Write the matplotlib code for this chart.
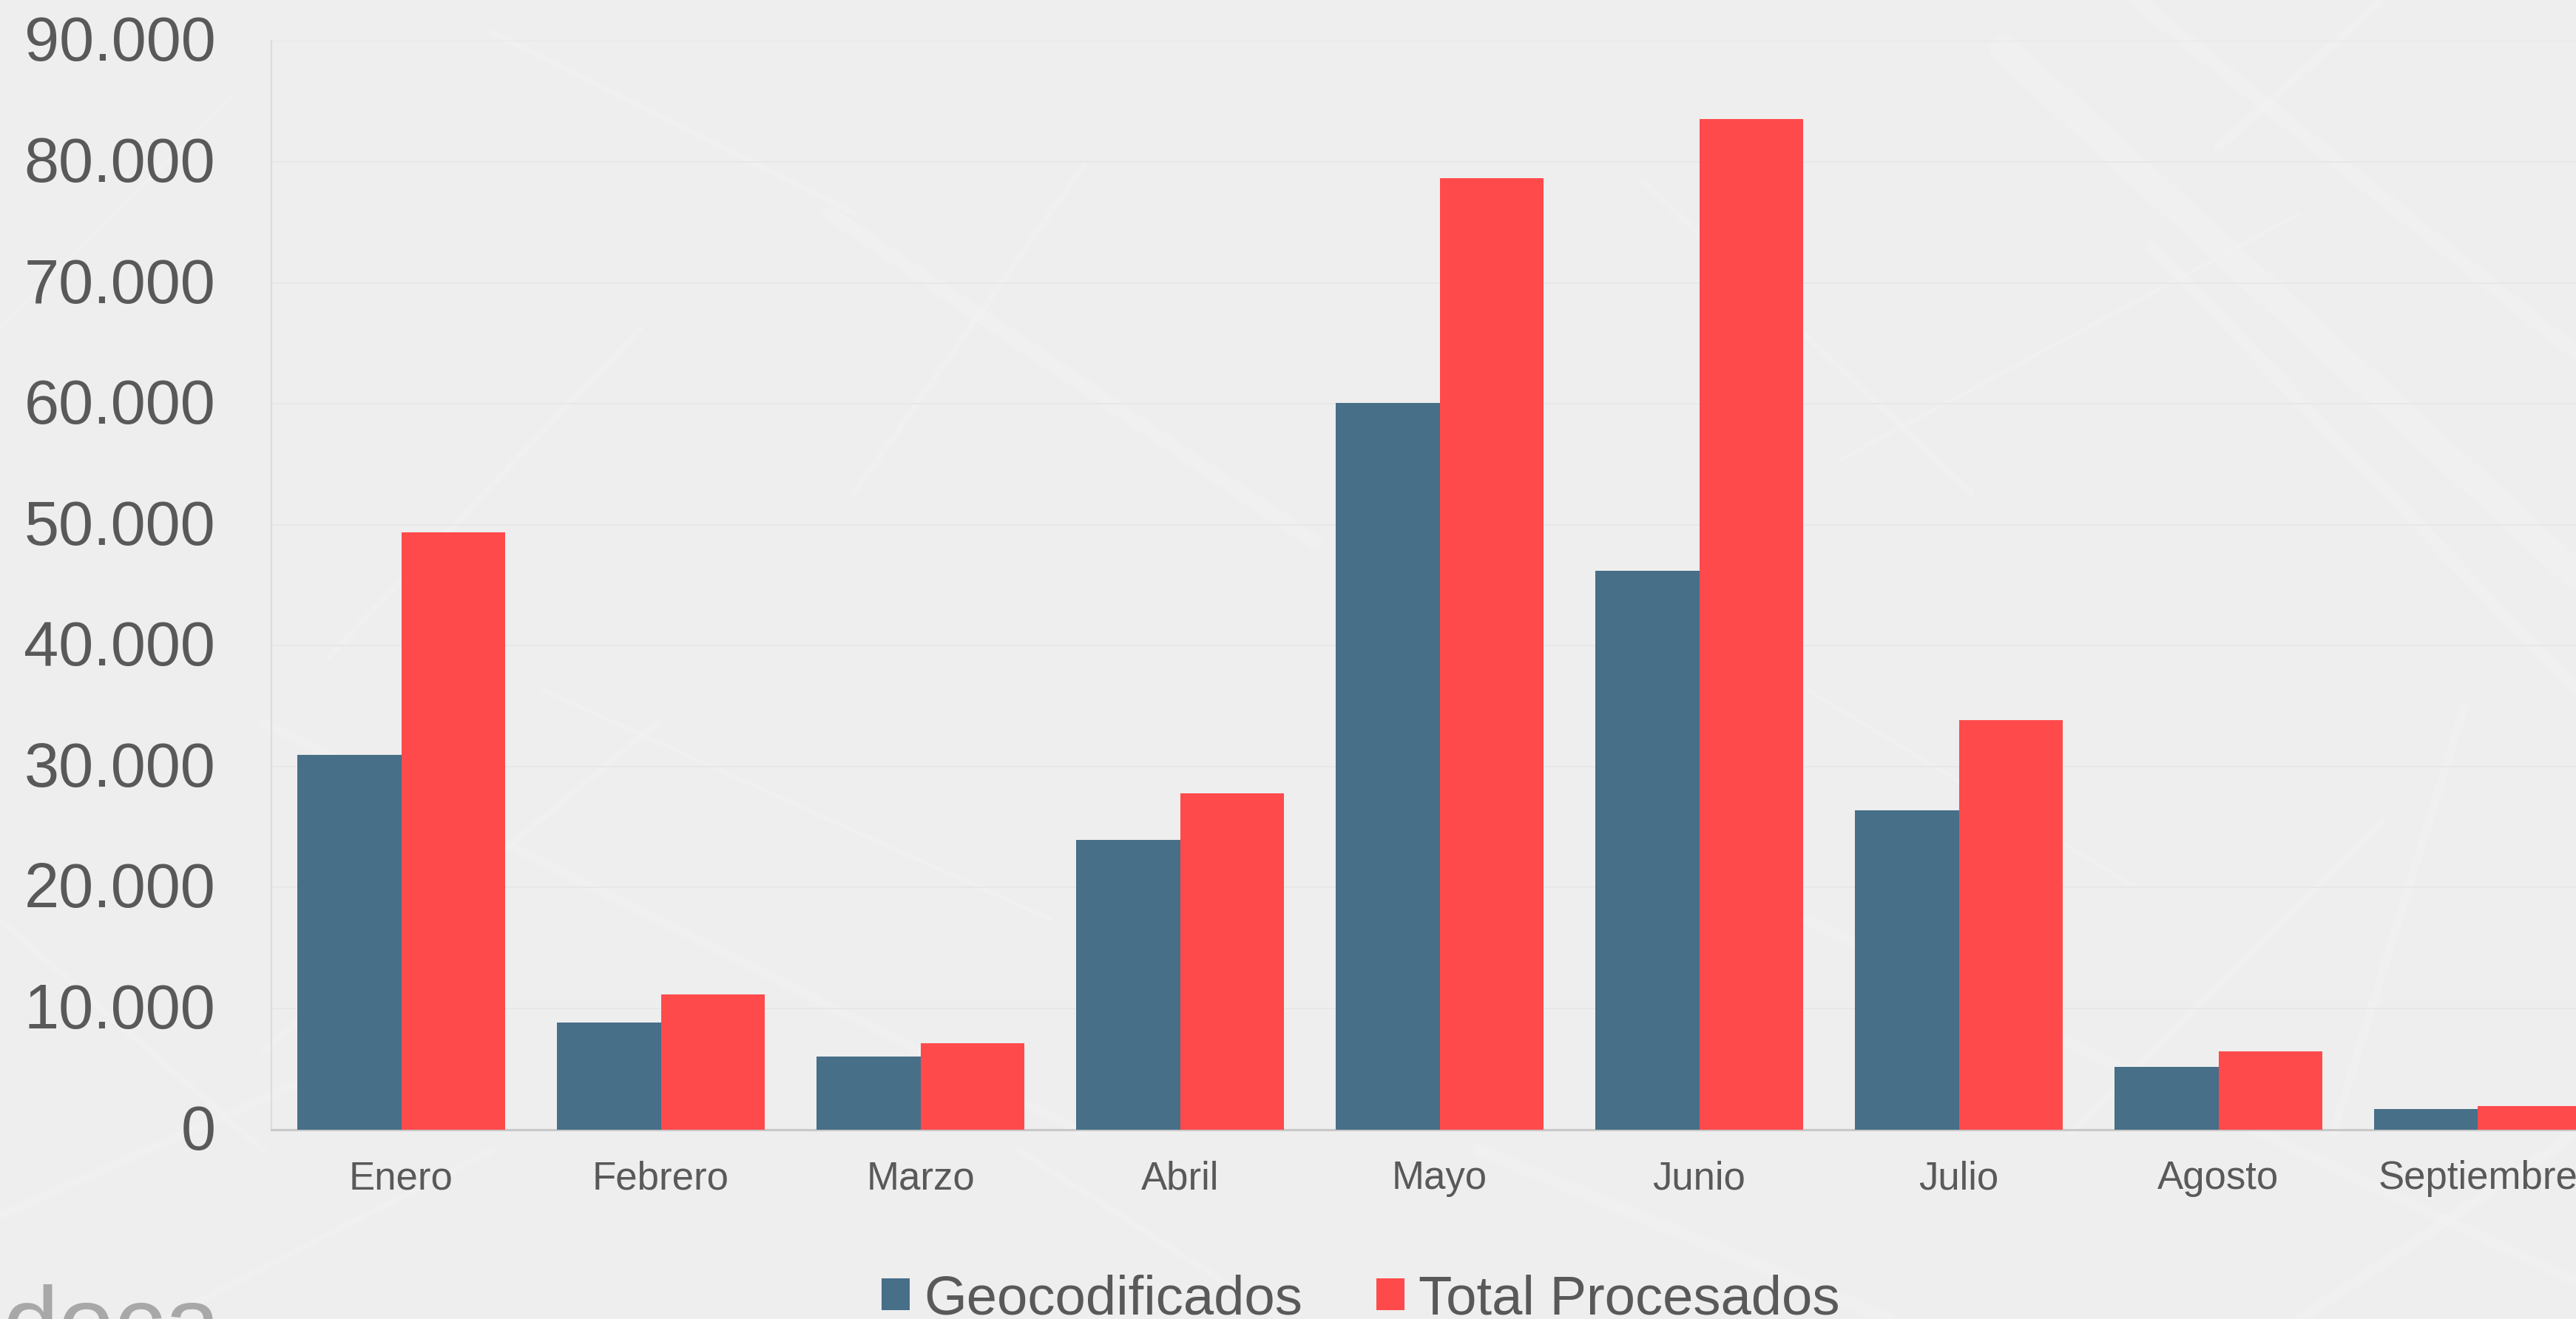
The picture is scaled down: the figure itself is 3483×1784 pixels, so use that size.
import numpy as np
import matplotlib
matplotlib.use('Agg')
import matplotlib.pyplot as plt
from matplotlib.transforms import ScaledTranslation

plt.rcParams['font.family'] = ['Liberation Sans', 'DejaVu Sans']

meses = ['Enero', 'Febrero', 'Marzo', 'Abril', 'Mayo', 'Junio', 'Julio', 'Agosto', 'Septiembre']
geocodificados = [30950, 8820, 6040, 23960, 60070, 46220, 26400, 5160, 1700]
total_procesados = [49400, 11130, 7130, 27760, 78660, 83560, 33870, 6450, 1900]
y_ticks = [0, 10000, 20000, 30000, 40000, 50000, 60000, 70000, 80000, 90000]
y_labels = ['0', '10.000', '20.000', '30.000', '40.000', '50.000', '60.000', '70.000', '80.000', '90.000']

W, H = 3483, 1784
GRIS = '#595959'

# faint street-map texture behind the chart, in preview pixels (x0, y0, x1, y1, width)
calles = [
    (505, 130, 800, 330, 7), (300, 20, 520, 130, 3), (1220, 30, 1568, 350, 14),
    (1300, 0, 1568, 215, 7), (1310, 150, 1568, 420, 6), (1350, 90, 1450, 0, 4),
    (160, 640, 400, 440, 3), (160, 440, 660, 690, 4), (390, 200, 200, 400, 3),
    (660, 100, 520, 300, 3), (1100, 560, 1568, 780, 5), (1450, 500, 1260, 690, 3),
    (0, 740, 180, 660, 4), (0, 560, 160, 700, 3), (900, 700, 1150, 803, 6),
    (1500, 430, 1420, 690, 4), (100, 803, 300, 700, 3), (1000, 110, 1200, 300, 3),
    (1120, 280, 1400, 130, 2), (330, 420, 640, 560, 2), (620, 700, 780, 803, 3),
    (1400, 803, 1568, 690, 5), (0, 200, 140, 60, 2), (1100, 420, 1300, 540, 2),
]

fig = plt.figure(figsize=(W / 100, H / 100), dpi=100, facecolor='#eeeeee')

bg = fig.add_axes([0, 0, 1, 1], zorder=0)
bg.set_xlim(0, 1568)
bg.set_ylim(803, 0)
bg.axis('off')
for x0, y0, x1, y1, lw in calles:
    bg.plot([x0, x1], [y0, y1], color='#f3f3f3', lw=lw * 2, alpha=0.55, solid_capstyle='round')

ax = fig.add_axes([367 / W, (H - 1527.5) / H, (W - 367) / W, (1527.5 - 55.5) / H], zorder=1)
ax.patch.set_alpha(0)

x = np.arange(len(meses))
ancho = 0.4
b1 = ax.bar(x - ancho / 2, geocodificados, ancho, color='#476F88', zorder=3, label='Geocodificados')
b2 = ax.bar(x + ancho / 2, total_procesados, ancho, color='#FF4A4C', zorder=3, label='Total Procesados')

ax.set_xlim(-0.5, (W - 367) / 351 - 0.5)
ax.set_ylim(0, 90000)
ax.set_xticks(x)
ax.set_xticklabels(meses, fontsize=38, color=GRIS)
ax.set_yticks(y_ticks)
ax.set_yticklabels(y_labels, fontsize=61, color=GRIS)
ax.tick_params(axis='x', length=0, pad=30)
ax.tick_params(axis='y', length=0, pad=54.5)
ax.grid(axis='y', color='#e6e6e6', lw=1.2, zorder=1)

# y labels sit a little higher than matplotlib centres them
subir = ScaledTranslation(0, 4 / 100, fig.dpi_scale_trans)
for lbl in ax.get_yticklabels():
    lbl.set_transform(lbl.get_transform() + subir)

for lado in ['top', 'right']:
    ax.spines[lado].set_visible(False)
ax.spines['left'].set_color('#dcdcdc')
ax.spines['left'].set_linewidth(1.5)
ax.spines['bottom'].set_color('#c8c8c8')
ax.spines['bottom'].set_linewidth(2.2)

fig.legend(handles=[b1, b2], loc='lower left', bbox_to_anchor=(1192 / W, -0.0045), ncol=2,
           frameon=False, fontsize=53.5, labelcolor=GRIS, handlelength=0.51, handleheight=0.51,
           handletextpad=0.26, columnspacing=1.34, borderpad=0, borderaxespad=0)

fig.text(3 / W, -51 / H, 'doca', fontsize=98, color='#a8a8a8', ha='left', va='baseline')

fig.savefig('out.png', dpi=100, facecolor=fig.get_facecolor())
